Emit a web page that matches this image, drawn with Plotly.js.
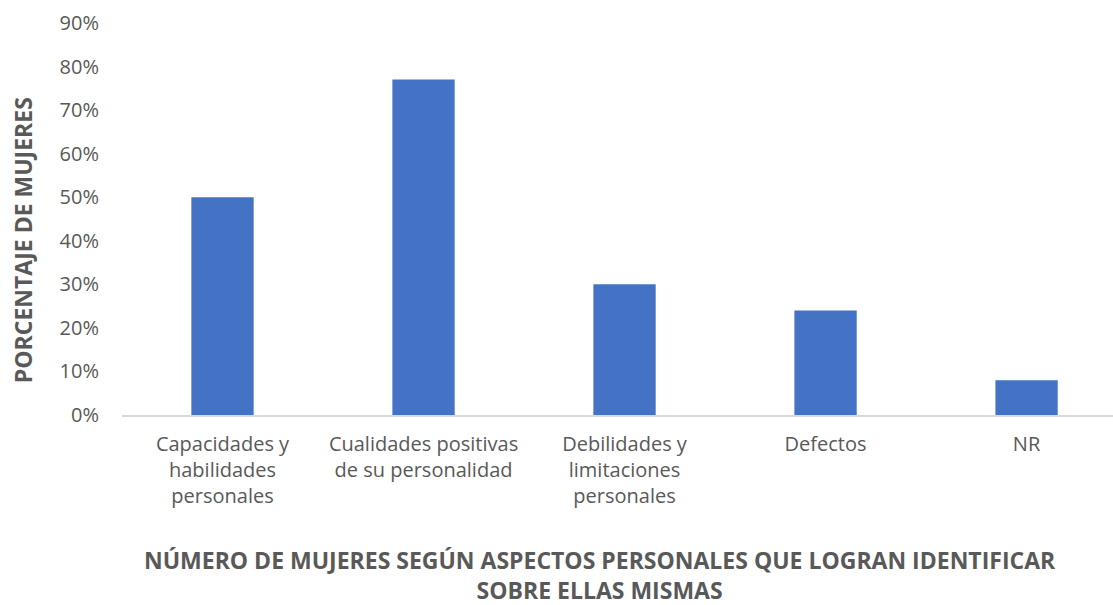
<!DOCTYPE html>
<html>
<head>
<meta charset="utf-8">
<script src="https://cdn.plot.ly/plotly-3.0.1.min.js"></script>
<style>html,body{margin:0;padding:0;background:#fff;}</style>
</head>
<body>
<div id="chart" style="width:1113px;height:605px;"></div>
<script>
const categories = [
  "Capacidades y<br>habilidades<br>personales",
  "Cualidades positivas<br>de su personalidad",
  "Debilidades y<br>limitaciones<br>personales",
  "Defectos",
  "NR"
];
const values = [0.50, 0.77, 0.30, 0.24, 0.08];
const tickVals = [0, 0.1, 0.2, 0.3, 0.4, 0.5, 0.6, 0.7, 0.8, 0.9];
const tickText = ["0%", "10%", "20%", "30%", "40%", "50%", "60%", "70%", "80%", "90%"];
const xTitle = "<b>NÚMERO DE MUJERES SEGÚN ASPECTOS PERSONALES QUE LOGRAN IDENTIFICAR<br>SOBRE ELLAS MISMAS</b>";
const yTitle = "<b>PORCENTAJE DE MUJERES</b>";

const trace = {
  type: "bar",
  x: categories,
  y: values,
  marker: {color: "#4472C4"},
  hoverinfo: "none"
};

const layout = {
  width: 1113,
  height: 605,
  margin: {l: 122, r: 0, t: 23, b: 190},
  paper_bgcolor: "#fff",
  plot_bgcolor: "#fff",
  bargap: 0.69,
  showlegend: false,
  font: {family: "Open Sans, Liberation Sans, sans-serif", color: "#595959", size: 20},
  xaxis: {
    range: [-0.5, 4.43],
    showline: true,
    linecolor: "#D9D9D9",
    linewidth: 1.5,
    showgrid: false,
    zeroline: false,
    ticks: "",
    ticklabelstandoff: 10,
    tickfont: {size: 20, color: "#595959"},
    automargin: false
  },
  yaxis: {
    range: [0, 0.9],
    tickvals: tickVals,
    ticktext: tickText,
    showgrid: false,
    zeroline: false,
    showline: false,
    ticks: "",
    ticklabelstandoff: 22,
    tickfont: {size: 20, color: "#595959"},
    automargin: false
  },
  annotations: [{
    text: yTitle,
    xref: "paper", yref: "paper",
    x: (23 - 122) / 991, y: 0.446,
    xanchor: "center", yanchor: "middle",
    textangle: -90,
    showarrow: false,
    font: {size: 23, color: "#595959"}
  }, {
    text: xTitle,
    xref: "paper", yref: "paper",
    x: (600 - 122) / 991, y: (415 - 575) / 392,
    xanchor: "center", yanchor: "middle",
    showarrow: false,
    font: {size: 23, color: "#595959"}
  }]
};

Plotly.newPlot("chart", [trace], layout, {displayModeBar: false, staticPlot: true});
</script>
</body>
</html>
